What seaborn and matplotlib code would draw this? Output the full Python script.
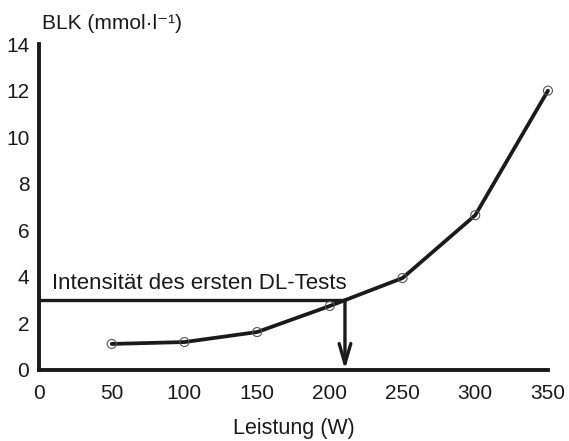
import matplotlib
matplotlib.use("Agg")
import matplotlib.pyplot as plt
import seaborn as sns
import pandas as pd

# Lactate step test: power output vs blood lactate concentration
leistung = [50, 100, 150, 200, 250, 300, 350]
blk = [1.12, 1.2, 1.63, 2.75, 3.95, 6.65, 12.0]
schwelle_blk = 3.0
x_ticks = [0, 50, 100, 150, 200, 250, 300, 350]
y_ticks = [0, 2, 4, 6, 8, 10, 12, 14]

sns.set_theme(style="white")
plt.rcParams["font.family"] = ["Liberation Sans", "DejaVu Sans"]

df = pd.DataFrame({"Leistung": leistung, "BLK": blk})

fig = plt.figure(figsize=(5.69, 4.41), dpi=100)
ax = fig.add_axes([0.0685, 0.161, 0.8945, 0.739])

sns.lineplot(data=df, x="Leistung", y="BLK", ax=ax, color="#1a1a1a",
             linewidth=2.7, clip_on=False, zorder=3)
sns.scatterplot(data=df, x="Leistung", y="BLK", ax=ax, marker="o", s=42,
                facecolor="none", edgecolor="#555555", linewidth=0.8,
                clip_on=False, zorder=4)

# Power at which the curve crosses the threshold lactate level
i = next(k for k in range(1, len(blk)) if blk[k] >= schwelle_blk)
x_schwelle = leistung[i - 1] + (schwelle_blk - blk[i - 1]) * (
    leistung[i] - leistung[i - 1]) / (blk[i] - blk[i - 1])

ax.plot([0, x_schwelle], [schwelle_blk, schwelle_blk], color="#1a1a1a",
        linewidth=2.4, clip_on=False, zorder=2)
ax.annotate("", xy=(x_schwelle, 0.02), xytext=(x_schwelle, schwelle_blk),
            arrowprops=dict(arrowstyle="->,head_length=1.2,head_width=0.35",
                            color="#1a1a1a", linewidth=2.4,
                            shrinkA=0, shrinkB=0), zorder=2)
ax.text(9, schwelle_blk + 0.25, "Intensität des ersten DL-Tests",
        fontsize=16, color="#1a1a1a", ha="left", va="bottom")

ax.set_xlim(0, 350)
ax.set_ylim(0, 14)
ax.set_xticks(x_ticks)
ax.set_yticks(y_ticks)
ax.set_xlabel("Leistung (W)", fontsize=15.5, color="#1a1a1a", labelpad=11)
ax.set_ylabel("")
fig.text(0.074, 0.935, "BLK (mmol·l⁻¹)", fontsize=15, color="#1a1a1a",
         ha="left", va="baseline")

for side in ["top", "right"]:
    ax.spines[side].set_visible(False)
for side in ["left", "bottom"]:
    ax.spines[side].set_linewidth(2.8)
    ax.spines[side].set_color("#1a1a1a")

ax.tick_params(axis="both", direction="in", length=7, width=2.8,
               color="#1a1a1a", labelsize=15, labelcolor="#1a1a1a")
ax.tick_params(axis="x", pad=10)
ax.tick_params(axis="y", pad=7)
ax.set_facecolor("white")
fig.patch.set_facecolor("white")

fig.savefig("out.png", dpi=100)
